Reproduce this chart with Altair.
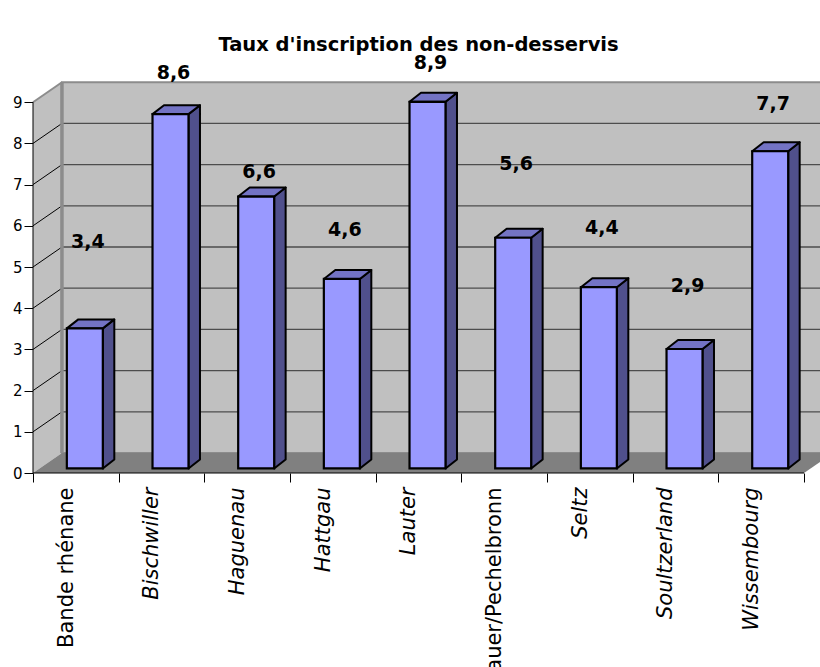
import altair as alt
import pandas as pd

# ---- chart data -------------------------------------------------------------
categories = ["Bande rhénane", "Bischwiller", "Haguenau", "Hattgau", "Lauter",
              "Sauer/Pechelbronn", "Seltz", "Soultzerland", "Wissembourg"]
values = [3.4, 8.6, 6.6, 4.6, 8.9, 5.6, 4.4, 2.9, 7.7]
y_ticks = [0, 1, 2, 3, 4, 5, 6, 7, 8, 9]

# height (in axis units) at which each value label floats
label_levels = [5.6, 9.7, 7.3, 5.9, 9.95, 7.5, 5.95, 4.55, 8.95]

# ---- pseudo-3D geometry, in axis units --------------------------------------
PLOT_W, PLOT_H = 787, 412
X_UNIT = 85.67
XMAX = PLOT_W / X_UNIT
YMAX = 10
WALL_DX, WALL_DY = 0.338, 0.485      # depth of the box (walls / floor)
BAR_X0, BAR_W = 0.395, 0.42          # front face of a column inside its slot
BAR_DX, BAR_DY = 0.134, 0.218        # depth of a column
BAR_BASE = 0.11
TOP = y_ticks[-1]

FRONT, TOP_FACE, SIDE = "#9999FF", "#7373C4", "#50508C"
WALL, FLOOR, EDGE = "#C0C0C0", "#808080", "#8C8C8C"

xs = alt.Scale(domain=[0, XMAX], nice=False, zero=False)
ys = alt.Scale(domain=[0, YMAX], nice=False, zero=False)

names_js = "[" + ",".join("'" + c + "'" for c in categories) + "]"
X_AXIS = alt.Axis(
    values=list(range(len(categories) + 1)), title=None, grid=False,
    domain=False, tickSize=9, tickColor="#000000", tickWidth=1,
    labelAngle=270, labelOffset=33, labelPadding=5, labelLimit=400,
    labelFont="DejaVu Sans", labelFontSize=21, labelColor="#000000",
    labelOverlap=False, labelFlush=False,
    labelFontStyle={"condition": {"test": "datum.value == 0 || datum.value == 5",
                                  "value": "normal"}, "value": "italic"},
    labelExpr=names_js + "[datum.value] || ''")
Y_AXIS = alt.Axis(
    values=y_ticks, title=None, grid=False, domain=False, tickSize=9,
    tickColor="#000000", tickWidth=1, labelPadding=2,
    labelFont="DejaVu Sans", labelFontSize=15, labelColor="#000000")


def X(field):
    return alt.X(field, type="quantitative", scale=xs, axis=X_AXIS)


def Y(field):
    return alt.Y(field, type="quantitative", scale=ys, axis=Y_AXIS)


# ---- frame: walls and floor ---------------------------------------------------
back_wall_df = pd.DataFrame([{"x": WALL_DX, "x2": XMAX + 1,
                              "y": WALL_DY, "y2": TOP + WALL_DY}])
back_wall = alt.Chart(back_wall_df).mark_rect(
    color=WALL, clip=True, stroke=EDGE, strokeWidth=2
).encode(x=X("x"), x2="x2:Q", y=Y("y"), y2="y2:Q")

left_wall_df = pd.DataFrame([{"x": 0, "lo": 0, "hi": TOP},
                             {"x": WALL_DX, "lo": WALL_DY, "hi": TOP + WALL_DY}])
left_wall = alt.Chart(left_wall_df).mark_area(orient="vertical", color=WALL).encode(
    x=X("x"), y=Y("lo"), y2="hi:Q")

floor_df = pd.DataFrame([{"y": 0, "xl": 0, "xr": len(categories)},
                         {"y": WALL_DY, "xl": WALL_DX, "xr": len(categories) + WALL_DX}])
floor = alt.Chart(floor_df).mark_area(orient="horizontal", color=FLOOR, clip=True).encode(
    y=Y("y"), x=X("xl"), x2="xr:Q")

# ---- gridlines on the back wall and the left wall ----------------------------
grid_levels = y_ticks[1:-1]
back_grid_df = pd.DataFrame({"y": [k + WALL_DY for k in grid_levels]})
back_grid_df["x"] = WALL_DX
back_grid_df["x2"] = XMAX + 1
back_grid = alt.Chart(back_grid_df).mark_rule(
    color="#4D4D4D", strokeWidth=1.3, clip=True
).encode(x=X("x"), x2="x2:Q", y=Y("y"))

side_grid_df = pd.DataFrame({"y": grid_levels, "y2": [k + WALL_DY for k in grid_levels]})
side_grid_df["x"] = 0
side_grid_df["x2"] = WALL_DX
side_grid = alt.Chart(side_grid_df).mark_rule(color="#000000", strokeWidth=1).encode(
    x=X("x"), x2="x2:Q", y=Y("y"), y2="y2:Q")

edges_df = pd.DataFrame([
    {"x": WALL_DX, "x2": WALL_DX, "y": WALL_DY, "y2": TOP + WALL_DY, "w": 3.5},
    {"x": 0, "x2": WALL_DX, "y": TOP, "y2": TOP + WALL_DY, "w": 2},
])
edges = alt.Chart(edges_df).mark_rule(color=EDGE).encode(
    x=X("x"), x2="x2:Q", y=Y("y"), y2="y2:Q",
    strokeWidth=alt.StrokeWidth("w:Q", scale=None, legend=None))

axes_df = pd.DataFrame([
    {"x": 0, "x2": 0, "y": 0, "y2": TOP},
    {"x": 0, "x2": len(categories), "y": 0, "y2": 0},
])
axis_lines = alt.Chart(axes_df).mark_rule(color="#000000", strokeWidth=1).encode(
    x=X("x"), x2="x2:Q", y=Y("y"), y2="y2:Q")

# ---- columns ------------------------------------------------------------------
front_rows, side_rows, top_rows, label_rows = [], [], [], []
for i, (name, v) in enumerate(zip(categories, values)):
    left = i + BAR_X0
    right = left + BAR_W
    base, top = BAR_BASE, BAR_BASE + v
    front_rows.append({"bar": name, "x": left, "x2": right, "y": base, "y2": top})
    side_rows.append({"bar": name, "x": right, "lo": base, "hi": top})
    side_rows.append({"bar": name, "x": right + BAR_DX, "lo": base + BAR_DY, "hi": top + BAR_DY})
    top_rows.append({"bar": name, "y": top, "xl": left, "xr": right})
    top_rows.append({"bar": name, "y": top + BAR_DY, "xl": left + BAR_DX, "xr": right + BAR_DX})
    label_rows.append({"bar": name, "x": i + 0.64, "y": label_levels[i],
                       "text": f"{v:.1f}".replace(".", ",")})

sides = alt.Chart(pd.DataFrame(side_rows)).mark_area(
    orient="vertical", color=SIDE, stroke="#000000", strokeWidth=2, strokeJoin="round"
).encode(x=X("x"), y=Y("lo"), y2="hi:Q", detail="bar:N")

tops = alt.Chart(pd.DataFrame(top_rows)).mark_area(
    orient="horizontal", color=TOP_FACE, stroke="#000000", strokeWidth=2, strokeJoin="round"
).encode(y=Y("y"), x=X("xl"), x2="xr:Q", detail="bar:N")

fronts = alt.Chart(pd.DataFrame(front_rows)).mark_rect(
    color=FRONT, stroke="#000000", strokeWidth=2.2
).encode(x=X("x"), x2="x2:Q", y=Y("y"), y2="y2:Q")

labels = alt.Chart(pd.DataFrame(label_rows)).mark_text(
    font="DejaVu Sans", fontWeight="bold", fontSize=19, color="#000000",
    align="center", baseline="middle"
).encode(x=X("x"), y=Y("y"), text="text:N")

chart = alt.layer(
    back_wall, left_wall, floor, back_grid, side_grid, edges, axis_lines,
    sides, tops, fronts, labels
).properties(
    width=PLOT_W, height=PLOT_H,
    background="#FFFFFF",
    title=alt.TitleParams(
        "Taux d'inscription des non-desservis", font="DejaVu Sans", fontSize=19.5,
        fontWeight="bold", color="#000000", anchor="middle", dx=-8, offset=-1),
    autosize=alt.AutoSizeParams(type="none"),
    padding={"left": 33, "top": 61, "right": 0, "bottom": 194},
).configure_view(strokeWidth=0, stroke="transparent")

chart.save("out.html", embed_options={"renderer": "svg", "actions": False})
